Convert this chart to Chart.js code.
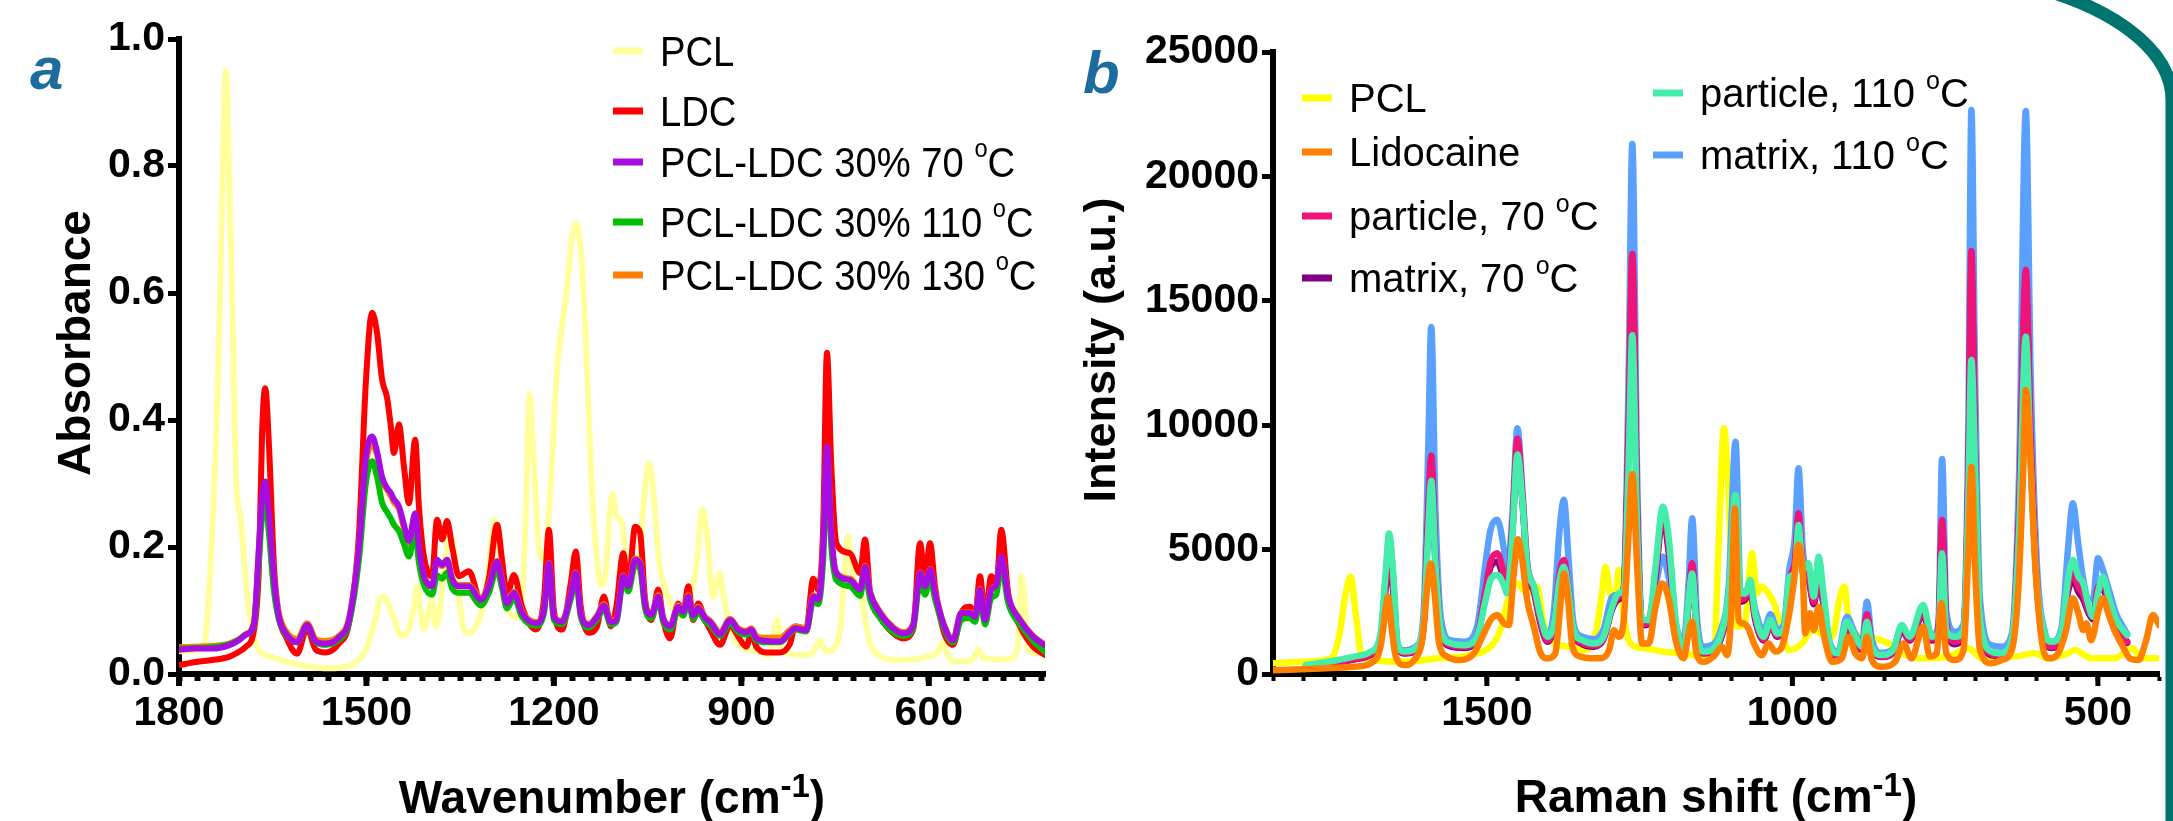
<!DOCTYPE html>
<html>
<head>
<meta charset="utf-8">
<title>FTIR and Raman spectra</title>
<script src="https://cdn.jsdelivr.net/npm/chart.js@4.4.1/dist/chart.umd.min.js"></script>
<style>
  html, body { margin: 0; padding: 0; background: #fff; }
  #figure { position: relative; width: 2173px; height: 821px; overflow: hidden; background: #fff; }
  #panelA { position: absolute; left: 0; top: 0; }
  #panelB { position: absolute; left: 1075px; top: 0; }
  #frame { position: absolute; left: 0; top: 0; pointer-events: none; }
</style>
</head>
<body>
<div id="figure">
  <canvas id="panelA" width="1075" height="821"></canvas>
  <canvas id="panelB" width="1098" height="821"></canvas>
  <svg id="frame" width="2173" height="821">
    <path d="M 2045 -10 A 272 130 0 0 1 2172 100 L 2172 840" fill="none" stroke="#00756f" stroke-width="13"/>
  </svg>
</div>
<script>
// ---------- panel a : FTIR ----------
const aXTickLabels = [1800, 1500, 1200, 900, 600];
const aYTickStep = 0.2;

// grid shared by LDC and the three PCL-LDC blends
const aWavenumber = [
  1800,1773,1747,1720,1704,1693,1680,1672,1667,1662,
  1656,1648,1640,1629,1611,1595,1581,1565,1544,1528,
  1512,1501,1491,1483,1475,1467,1461,1456,1448,1440,
  1432,1422,1416,1408,1395,1387,1379,1371,1363,1352,
  1336,1317,1304,1291,1283,1275,1264,1251,1229,1216,
  1208,1200,1187,1173,1165,1157,1144,1131,1120,1109,
  1100,1089,1081,1070,1062,1054,1044,1033,1025,1014,
  1001,993,985,977,969,958,950,934,918,905,
  892,884,876,860,838,822,814,796,785,777,
  769,763,756,748,726,710,702,694,678,657,
  641,625,614,606,598,590,577,561,548,534,
  526,518,510,500,492,484,473,454,433,414
];
const aLdc = [
  .014,.019,.022,.027,.035,.043,.069,.17,.38,.45,
  .36,.17,.09,.059,.032,.072,.038,.034,.048,.08,
  .22,.458,.569,.537,.464,.435,.39,.348,.393,.327,
  .269,.369,.264,.185,.154,.243,.212,.241,.201,.154,
  .162,.115,.15,.235,.18,.125,.156,.106,.07,.117,
  .227,.1,.07,.143,.193,.106,.065,.075,.122,.075,
  .106,.19,.138,.232,.222,.117,.085,.133,.085,.056,
  .111,.096,.138,.085,.111,.085,.07,.046,.077,.059,
  .043,.064,.043,.034,.034,.048,.075,.072,.15,.133,
  .232,.506,.327,.206,.19,.159,.212,.128,.09,.064,
  .056,.07,.206,.15,.206,.138,.07,.046,.096,.106,
  .09,.154,.09,.154,.138,.227,.128,.075,.043,.03
];
const aBlend70 = [
  .038,.040,.040,.045,.053,.062,.080,.20,.28,.303,
  .25,.15,.09,.064,.050,.077,.051,.048,.058,.085,
  .20,.34,.374,.35,.31,.293,.285,.275,.264,.235,
  .21,.253,.20,.155,.138,.18,.172,.18,.15,.138,
  .138,.117,.138,.177,.145,.111,.128,.096,.08,.10,
  .174,.09,.082,.125,.159,.095,.077,.09,.108,.082,
  .085,.154,.138,.18,.174,.11,.093,.122,.087,.075,
  .106,.098,.122,.092,.104,.088,.082,.063,.085,.07,
  .066,.07,.056,.052,.051,.066,.072,.069,.122,.117,
  .20,.358,.22,.159,.148,.133,.169,.128,.096,.072,
  .064,.077,.159,.138,.164,.128,.08,.053,.096,.096,
  .09,.133,.085,.133,.14,.185,.122,.085,.059,.045
];
const aBlend110 = [
  .040,.041,.042,.047,.054,.062,.078,.18,.25,.27,
  .22,.13,.085,.062,.050,.075,.050,.046,.054,.08,
  .18,.30,.335,.31,.27,.255,.245,.235,.225,.205,
  .185,.225,.175,.14,.125,.155,.15,.16,.135,.128,
  .128,.108,.128,.165,.135,.103,.12,.09,.076,.095,
  .165,.085,.078,.118,.15,.09,.073,.086,.103,.078,
  .082,.145,.13,.172,.165,.103,.088,.115,.082,.07,
  .1,.092,.115,.087,.098,.083,.077,.06,.08,.066,
  .062,.066,.053,.05,.05,.064,.07,.067,.115,.11,
  .18,.33,.2,.148,.138,.123,.158,.118,.088,.066,
  .06,.072,.145,.125,.15,.118,.075,.05,.085,.088,
  .082,.12,.078,.12,.125,.17,.112,.078,.052,.035
];
const aBlend130 = [
  .042,.043,.044,.048,.055,.063,.080,.20,.27,.29,
  .24,.15,.095,.068,.055,.08,.055,.052,.06,.088,
  .20,.33,.36,.345,.305,.29,.28,.27,.26,.23,
  .205,.25,.195,.155,.14,.178,.17,.178,.15,.14,
  .14,.12,.14,.178,.147,.113,.13,.098,.082,.102,
  .175,.092,.084,.127,.16,.097,.079,.092,.11,.084,
  .087,.155,.14,.182,.176,.112,.095,.124,.089,.077,
  .108,.1,.124,.094,.106,.09,.084,.066,.087,.072,
  .068,.072,.06,.057,.057,.07,.075,.072,.124,.12,
  .20,.35,.22,.16,.15,.135,.17,.13,.098,.074,
  .066,.079,.16,.14,.165,.13,.082,.056,.097,.097,
  .092,.134,.087,.134,.14,.185,.123,.086,.06,.046
];

const aPclWavenumber = [
  1800,1780,1763,1757,1747,1738,1732,1725,1719,1714,
  1708,1702,1695,1688,1678,1667,1650,1630,1600,1560,
  1530,1515,1500,1485,1478,1472,1465,1455,1445,1435,
  1425,1419,1412,1408,1402,1395,1389,1384,1376,1368,
  1360,1352,1344,1336,1325,1315,1305,1295,1288,1278,
  1265,1252,1245,1239,1233,1224,1215,1205,1195,1188,
  1180,1172,1165,1158,1150,1141,1133,1124,1117,1111,
  1106,1100,1092,1082,1075,1066,1058,1048,1042,1032,
  1020,1008,998,985,972,962,955,945,935,928,
  920,908,895,870,855,842,836,822,800,785,
  774,764,752,742,735,729,722,716,710,704,
  695,685,668,640,604,585,578,570,561,540,
  528,521,512,490,470,458,452,447,441,425,
  414
];
const aPcl = [
  .036,.037,.040,.064,.22,.45,.70,.95,.76,.55,
  .29,.25,.17,.10,.05,.033,.026,.02,.013,.009,
  .012,.02,.04,.09,.12,.122,.11,.085,.06,.065,
  .1,.138,.09,.07,.09,.117,.075,.09,.16,.22,
  .2,.12,.07,.064,.075,.1,.16,.243,.2,.12,
  .09,.11,.25,.44,.35,.2,.18,.3,.48,.54,
  .6,.68,.71,.68,.55,.33,.2,.14,.16,.25,
  .283,.25,.24,.17,.16,.16,.25,.332,.3,.18,
  .13,.1,.09,.11,.17,.259,.22,.12,.159,.12,
  .08,.05,.04,.035,.03,.085,.04,.032,.03,.035,
  .053,.035,.04,.07,.15,.216,.16,.128,.14,.1,
  .05,.034,.024,.022,.027,.035,.05,.03,.02,.02,
  .025,.038,.025,.023,.024,.04,.154,.12,.037,.033,
  .032
];

// ---------- panel b : Raman ----------
const bXTickLabels = [1500, 1000, 500];
const bYTickStep = 5000;

const bPclShift = [
  1850,1799,1755,1742,1731,1723,1714,1706,1690,1635,
  1581,1527,1494,1478,1467,1450,1434,1418,1407,1390,
  1363,1341,1322,1311,1306,1298,1290,1284,1276,1265,
  1243,1211,1178,1145,1128,1121,1112,1104,1096,1088,
  1077,1066,1058,1050,1039,1028,1017,1006,984,968,
  952,935,922,915,908,897,881,865,843,821,
  788,745,712,690,636,603,581,549,538,511,
  473,443,429,400
];
const bPcl = [
  430,490,630,1500,3240,3910,2300,830,560,490,
  630,760,1100,1770,2840,3640,3240,3510,2030,1230,
  1100,960,1630,3370,4310,3240,2970,4180,2300,1230,
  1030,900,830,700,900,5000,9880,6990,2300,1900,
  2170,4850,3240,3510,3240,2700,1630,960,1230,1770,
  1630,1500,3110,3510,2170,1630,1500,1430,1230,830,
  630,700,1030,630,700,830,630,830,960,630,
  630,1030,630,630
];

const bLidoShift = [
  1850,1772,1717,1690,1674,1665,1662,1656,1649,1635,
  1619,1605,1597,1592,1586,1578,1565,1543,1521,1505,
  1494,1483,1472,1464,1456,1449,1442,1434,1423,1412,
  1401,1388,1379,1374,1367,1360,1347,1330,1314,1300,
  1292,1284,1276,1268,1262,1254,1246,1235,1224,1213,
  1202,1191,1178,1170,1164,1157,1145,1129,1115,1107,
  1100,1094,1088,1080,1072,1063,1050,1039,1028,1017,
  1006,998,990,983,979,971,965,957,949,935,
  919,908,897,886,878,870,854,832,818,805,
  786,775,764,756,748,734,720,712,707,701,
  693,674,658,641,630,622,618,611,603,592,
  581,565,552,541,532,524,519,511,500,492,
  483,473,459,448,434,421,410,400
];
const bLidocaine = [
  150,225,290,430,1100,2700,3100,1900,700,360,
  560,1500,3640,4446,3370,1230,700,560,830,1630,
  2170,2370,2030,1970,4040,5420,4580,2970,1900,830,
  630,830,2970,4040,2970,1100,700,630,630,960,
  1760,1500,2170,5650,8040,4310,1230,1230,2700,3640,
  2970,1360,630,1630,2100,830,490,700,1100,760,
  2500,6660,2170,2030,1830,1230,760,1230,900,1100,
  2300,3640,5180,4040,1630,2440,1770,2700,1630,490,
  630,1500,830,630,1500,560,290,490,1230,630,
  1900,700,830,2840,830,560,960,4980,8320,4310,
  960,430,560,960,3510,8330,11410,9000,4580,1360,
  630,830,1770,3040,2440,1770,2030,1360,2440,3040,
  2440,1770,1100,630,560,1360,2370,1970
];

// grid shared by the four particle / matrix spectra
const bSampleShift = [
  1796,1744,1717,1690,1674,1665,1660,1654,1646,1635,
  1614,1603,1596,1591,1584,1575,1559,1537,1516,1502,
  1494,1483,1472,1467,1458,1450,1442,1434,1423,1412,
  1401,1390,1382,1374,1366,1358,1344,1325,1309,1295,
  1284,1276,1268,1262,1254,1246,1235,1224,1212,1202,
  1191,1178,1170,1164,1156,1145,1129,1118,1104,1093,
  1085,1077,1069,1061,1047,1036,1025,1014,1005,996,
  990,983,974,965,957,949,938,925,911,897,
  886,878,870,854,835,821,808,786,772,761,
  755,748,734,720,712,707,701,693,674,658,
  641,629,618,610,600,587,576,560,549,541,
  532,524,516,508,500,492,481,470,459,452
];
const bParticle70 = [
  300,480,600,800,1400,3800,4600,3700,1100,850,
  1000,2200,6500,8780,4600,1800,1150,1100,1500,3400,
  4500,4850,4000,3500,6000,9460,7200,4400,3400,2100,
  1350,2000,3900,4580,3300,1700,1250,1150,1450,2700,
  3100,3400,10000,16880,6500,2000,2100,4000,6500,5000,
  2000,900,2900,4450,1600,850,1000,1400,3000,6600,
  3000,3100,3500,2300,1400,2000,1550,1700,3800,4500,
  6456,4300,4000,2900,4000,2900,1000,750,1900,1400,
  1000,2400,1100,700,900,1800,1400,2500,1400,1800,
  6188,2000,1300,1700,8000,17000,9000,2300,800,750,
  1250,6500,16250,9500,3800,1400,1100,1500,3500,4040,
  3500,3200,2600,2300,3500,3600,2800,2000,1500,1300
];
const bMatrix70 = [
  280,460,580,760,1350,3600,4400,3500,1050,820,
  950,2100,6200,8300,4400,1700,1100,1050,1450,3300,
  4300,4500,3800,3400,5800,9000,7000,4200,3300,2000,
  1300,1950,3700,4400,3200,1650,1200,1100,1400,2600,
  3000,3300,9500,16000,6200,1950,2000,3900,6300,4800,
  1950,880,2800,4300,1550,820,960,1350,2900,6300,
  2900,3000,3400,2200,1350,1950,1500,1650,3700,4300,
  6100,4100,3900,2800,3900,2800,980,720,1850,1350,
  950,2300,1050,680,870,1750,1350,2400,1350,1700,
  5800,1900,1200,1600,7600,16000,8500,2200,750,720,
  1200,6200,15500,9000,3600,1350,1050,1450,3300,3800,
  3300,3000,2500,2200,3300,3400,2700,1900,1450,1250
];
const bParticle110 = [
  360,560,700,900,1630,4310,5650,4310,1230,900,
  1100,2300,5650,7770,4310,1770,1230,1160,1500,2970,
  3780,3980,3570,3240,5650,8820,6990,4310,3510,2300,
  1500,2030,3640,4310,3240,1770,1360,1230,1500,2700,
  3240,3370,8330,13620,5650,2170,2170,4310,6720,5380,
  2170,960,2970,4040,1630,900,1030,1500,3240,7195,
  3240,3240,3780,2440,1500,2170,1630,1770,3910,4040,
  5990,4180,4450,3110,4710,3240,1100,830,2100,1500,
  1100,2100,1100,760,960,1970,1500,2770,1500,1630,
  4850,1770,1500,1770,6990,12620,8330,2300,900,830,
  1360,5650,13560,8330,3640,1630,1300,1630,3780,4580,
  3910,3640,2840,2300,3240,3910,2970,2170,1770,1560
];
const bMatrix110 = [
  330,520,650,850,1500,4000,5400,4100,1200,950,
  1150,2700,9000,13950,6500,2200,1350,1300,1900,4500,
  5800,6200,5000,4000,6500,9880,7500,4500,3500,2200,
  1500,2600,5500,7000,4500,2000,1500,1400,1800,3100,
  3200,3500,12000,21300,8000,2000,2200,3500,4710,3800,
  2000,1300,3600,6260,2200,1100,1200,1700,3600,9330,
  3400,3300,3500,2600,1700,2400,1800,2000,4200,5500,
  8265,5000,3800,3000,3600,2800,1200,900,2300,1600,
  1200,2900,1400,850,1000,1900,1500,2600,1500,2000,
  8640,2500,1700,2000,10000,22670,12000,3000,1150,1100,
  1600,8000,22630,12000,4500,1700,1300,1800,5000,6860,
  5200,3800,3000,3000,4650,4200,3300,2400,1900,1600
];

// ---------- drawing helpers ----------
const FONT = "'Liberation Sans', Arial, sans-serif";

function points(xs, ys) {
  return xs.map((x, i) => ({ x: x, y: ys[i] }));
}

function tickRange(max, min, step) {
  const out = [];
  for (let v = max; v >= min; v -= step) out.push(v);
  return out;
}

// text with ^{...} superscripts, on an alphabetic baseline
function drawRich(ctx, text, x, y, opt) {
  const parts = text.split(/\^\{([^}]*)\}/);
  const mainFont = `${opt.weight} ${opt.size}px ${FONT}`;
  const supFont = `${opt.weight} ${Math.round(opt.size * opt.supScale)}px ${FONT}`;
  const stretch = opt.stretch || 1;
  let width = 0;
  parts.forEach((p, i) => {
    ctx.font = i % 2 ? supFont : mainFont;
    width += ctx.measureText(p).width;
  });
  ctx.save();
  ctx.translate(opt.align === 'center' ? x - width * stretch / 2 : x, y);
  ctx.scale(stretch, 1);
  ctx.textAlign = 'left';
  ctx.textBaseline = 'alphabetic';
  ctx.fillStyle = '#000';
  let cx = 0;
  parts.forEach((p, i) => {
    ctx.font = i % 2 ? supFont : mainFont;
    ctx.fillText(p, cx, i % 2 ? -opt.size * opt.supRaise : 0);
    cx += ctx.measureText(p).width;
  });
  ctx.restore();
}

const figureText = {
  id: 'figureText',
  afterDraw(chart, args, o) {
    const ctx = chart.ctx;
    ctx.save();

    ctx.font = `italic bold 60px ${FONT}`;
    ctx.fillStyle = '#1c6c9f';
    ctx.textAlign = 'left';
    ctx.textBaseline = 'alphabetic';
    ctx.fillText(o.letter.text, o.letter.x, o.letter.y);

    drawRich(ctx, o.xTitle.text, o.xTitle.x, o.xTitle.y,
      { weight: 'bold', size: o.xTitle.size, supScale: 0.72, supRaise: 0.34, align: 'center' });

    ctx.save();
    ctx.translate(o.yTitle.x, o.yTitle.y);
    ctx.rotate(-Math.PI / 2);
    drawRich(ctx, o.yTitle.text, 0, 0,
      { weight: 'bold', size: o.yTitle.size, supScale: 0.72, supRaise: 0.34, align: 'center' });
    ctx.restore();

    // legend, one entry per dataset
    const lg = o.legend;
    chart.data.datasets.forEach((ds, i) => {
      const pos = lg.slots[i];
      ctx.fillStyle = ds.borderColor;
      ctx.fillRect(pos.x, pos.y - 3.5, 30, 7);
      drawRich(ctx, ds.label, pos.x + 47, pos.y + lg.size * 0.358,
        { weight: 'normal', size: lg.size, supScale: 0.62, supRaise: 0.47, align: 'left', stretch: lg.stretch });
    });
    ctx.restore();
  }
};

const majorTicks = {
  id: 'majorTicks',
  afterDraw(chart, args, o) {
    const s = chart.scales.x;
    const ctx = chart.ctx;
    ctx.save();
    ctx.strokeStyle = '#000';
    ctx.lineWidth = o.width;
    o.values.forEach(v => {
      const px = s.getPixelForValue(v);
      ctx.beginPath();
      ctx.moveTo(px, s.top);
      ctx.lineTo(px, s.top + o.length);
      ctx.stroke();
    });
    ctx.restore();
  }
};

function spectrumChart(canvasId, cfg) {
  const tickFont = { family: FONT, size: 41, weight: 'bold' };
  return new Chart(document.getElementById(canvasId), {
    type: 'line',
    data: { datasets: cfg.datasets },
    options: {
      responsive: false,
      animation: false,
      devicePixelRatio: 1,
      layout: { padding: { left: 0, top: cfg.top, right: cfg.right, bottom: 0 } },
      elements: {
        point: { radius: 0 },
        line: { borderWidth: cfg.lineWidth, cubicInterpolationMode: 'monotone', borderCapStyle: 'round', borderJoinStyle: 'round' }
      },
      scales: {
        x: {
          type: 'linear',
          reverse: true,
          min: cfg.xMin,
          max: cfg.xMax,
          afterBuildTicks: s => { s.ticks = cfg.xMinorTicks.map(v => ({ value: v })); },
          afterFit: s => { s.height = 147; },
          ticks: {
            autoSkip: false,
            maxRotation: 0,
            padding: 8,
            color: '#000',
            font: tickFont,
            callback: v => cfg.xLabels.includes(v) ? String(v) : ''
          },
          grid: { drawOnChartArea: false, tickLength: 7, tickWidth: cfg.minorTickWidth, tickColor: '#000' },
          border: { display: true, width: 6, color: '#000' }
        },
        y: {
          min: 0,
          max: cfg.yMax,
          afterFit: s => { s.width = cfg.left; },
          ticks: {
            stepSize: cfg.yStep,
            padding: 3,
            color: '#000',
            font: tickFont,
            callback: cfg.yFormat
          },
          grid: { drawOnChartArea: false, tickLength: 11, tickWidth: 5, tickColor: '#000' },
          border: { display: true, width: 6, color: '#000' }
        }
      },
      plugins: {
        legend: { display: false },
        tooltip: { enabled: false },
        figureText: cfg.text,
        majorTicks: { values: cfg.xLabels, length: 12, width: cfg.majorTickWidth }
      }
    },
    plugins: [figureText, majorTicks]
  });
}

// ---------- panel a ----------
spectrumChart('panelA', {
  left: 179, top: 39, right: 30,
  xMin: 414, xMax: 1800,
  xMinorTicks: tickRange(1800, 420, 30),
  xLabels: aXTickLabels,
  yMax: 1.0, yStep: aYTickStep,
  yFormat: v => v.toFixed(1),
  lineWidth: 6, minorTickWidth: 6, majorTickWidth: 6,
  datasets: [
    { label: 'PCL', data: points(aPclWavenumber, aPcl), borderColor: '#ffff9c', order: 4 },
    { label: 'LDC', data: points(aWavenumber, aLdc), borderColor: '#ff0000', order: 3 },
    { label: 'PCL-LDC 30% 70 ^{o}C', data: points(aWavenumber, aBlend70), borderColor: '#a50de0', order: 0 },
    { label: 'PCL-LDC 30% 110 ^{o}C', data: points(aWavenumber, aBlend110), borderColor: '#00bf00', order: 1 },
    { label: 'PCL-LDC 30% 130 ^{o}C', data: points(aWavenumber, aBlend130), borderColor: '#ff8000', order: 2 }
  ],
  text: {
    letter: { text: 'a', x: 30, y: 89 },
    xTitle: { text: 'Wavenumber (cm^{-1})', x: 612, y: 813, size: 46 },
    yTitle: { text: 'Absorbance', x: 90, y: 343, size: 46 },
    legend: {
      size: 42, stretch: 0.91,
      slots: [{ x: 613, y: 51 }, { x: 613, y: 111 }, { x: 613, y: 162 }, { x: 613, y: 222 }, { x: 613, y: 275 }]
    }
  }
});

// ---------- panel b ----------
spectrumChart('panelB', {
  left: 198, top: 52, right: 14,
  xMin: 400, xMax: 1850,
  xMinorTicks: tickRange(1850, 400, 50),
  xLabels: bXTickLabels,
  yMax: 25000, yStep: bYTickStep,
  yFormat: v => String(v),
  lineWidth: 6.5, minorTickWidth: 4, majorTickWidth: 5,
  datasets: [
    { label: 'PCL', data: points(bPclShift, bPcl), borderColor: '#ffff00', order: 5 },
    { label: 'Lidocaine', data: points(bLidoShift, bLidocaine), borderColor: '#ff8000', order: 0 },
    { label: 'particle, 70 ^{o}C', data: points(bSampleShift, bParticle70), borderColor: '#f01478', order: 2 },
    { label: 'matrix, 70 ^{o}C', data: points(bSampleShift, bMatrix70), borderColor: '#800080', order: 3 },
    { label: 'particle, 110 ^{o}C', data: points(bSampleShift, bParticle110), borderColor: '#44eeaa', order: 1 },
    { label: 'matrix, 110 ^{o}C', data: points(bSampleShift, bMatrix110), borderColor: '#5aa0ff', order: 4 }
  ],
  text: {
    letter: { text: 'b', x: 8, y: 93 },
    xTitle: { text: 'Raman shift (cm^{-1})', x: 641, y: 812, size: 46 },
    yTitle: { text: 'Intensity (a.u.)', x: 40, y: 350, size: 45 },
    legend: {
      size: 40, stretch: 1,
      slots: [{ x: 227, y: 98 }, { x: 227, y: 152 }, { x: 227, y: 216 }, { x: 227, y: 278 },
              { x: 578, y: 93 }, { x: 578, y: 155 }]
    }
  }
});
</script>
</body>
</html>
